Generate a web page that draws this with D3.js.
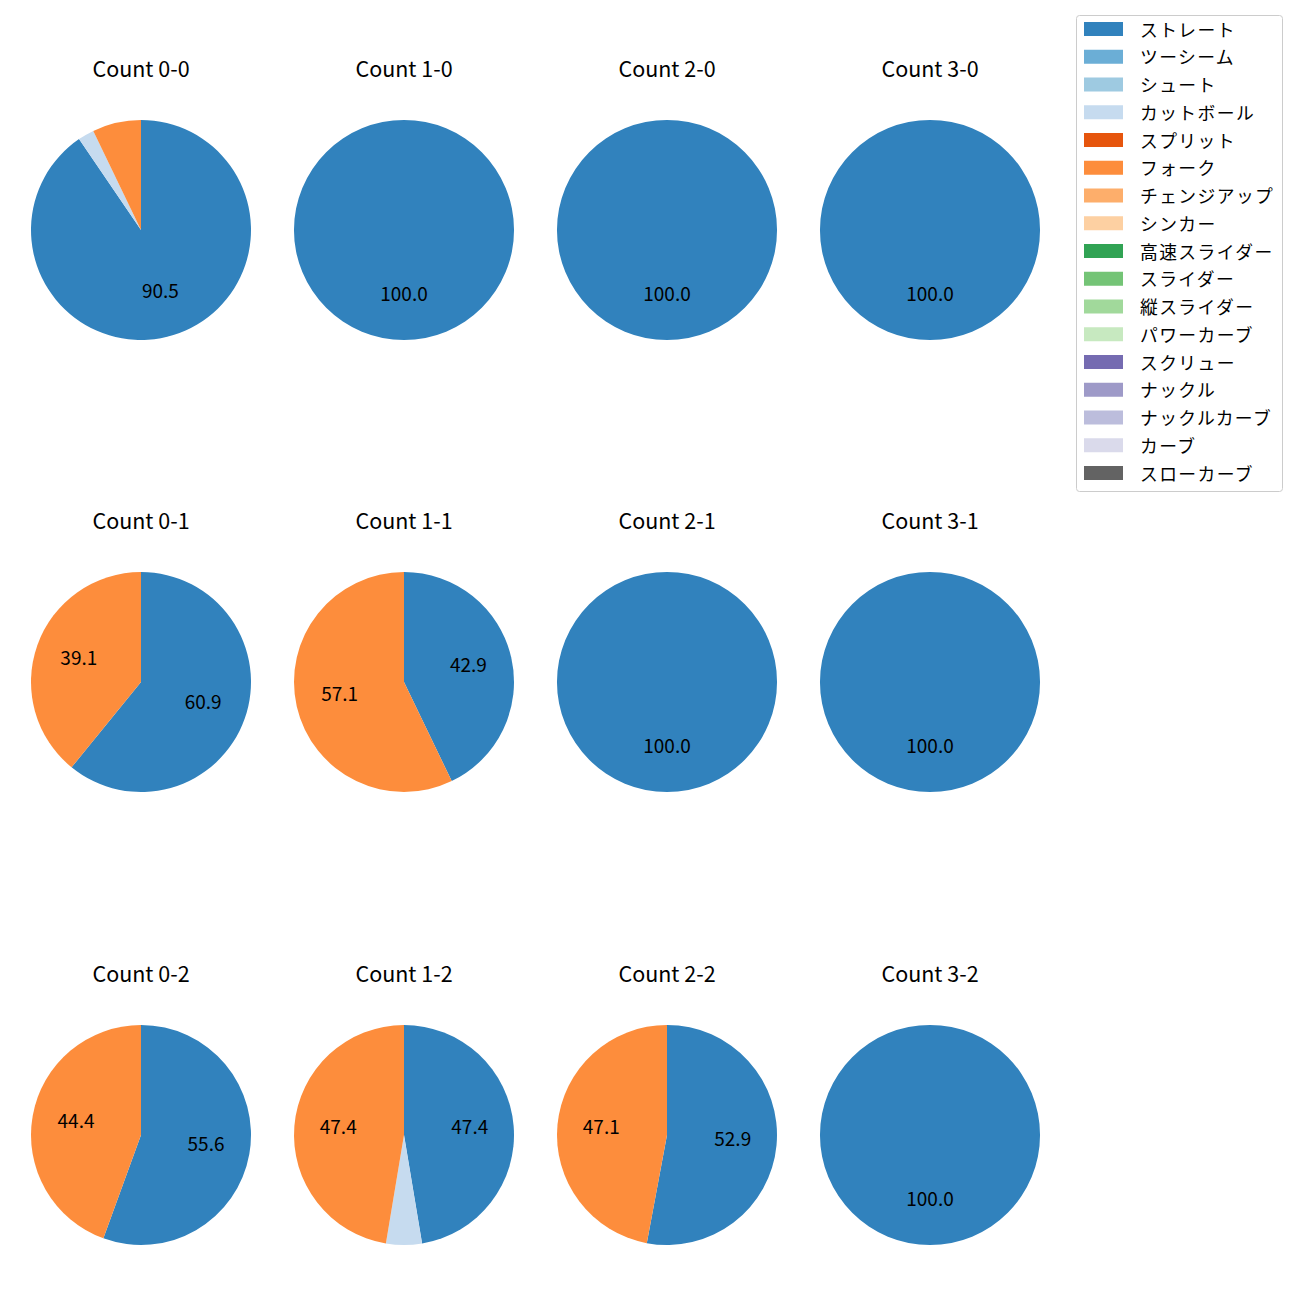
<!DOCTYPE html>
<html><head><meta charset="utf-8">
<script src="https://cdn.jsdelivr.net/npm/d3@7"></script>
<style>body{margin:0;background:#fff}svg{display:block}text{font-family:"Noto Sans CJK JP","Noto Sans",sans-serif}</style>
</head><body>
<script>
const pitchTypes = ["ストレート","ツーシーム","シュート","カットボール","スプリット","フォーク","チェンジアップ","シンカー","高速スライダー","スライダー","縦スライダー","パワーカーブ","スクリュー","ナックル","ナックルカーブ","カーブ","スローカーブ"];
const pitchColors = ["#3182bd","#6baed6","#9ecae1","#c6dbef","#e6550d","#fd8d3c","#fdae6b","#fdd0a2","#31a354","#74c476","#a1d99b","#c7e9c0","#756bb1","#9e9ac8","#bcbddc","#dadaeb","#636363"];
const countTitles = ["Count 0-0","Count 1-0","Count 2-0","Count 3-0","Count 0-1","Count 1-1","Count 2-1","Count 3-1","Count 0-2","Count 1-2","Count 2-2","Count 3-2"];
// pitch counts per panel: ストレート, カットボール, フォーク
const straightVals = [38, 1, 1, 1, 14, 3, 1, 1, 5, 9, 9, 1];
const cutterVals   = [ 1, 0, 0, 0,  0, 0, 0, 0, 0, 1, 0, 0];
const forkVals     = [ 3, 0, 0, 0,  9, 4, 0, 0, 4, 9, 8, 0];

const W = 1300, H = 1300;
const svg = d3.select("body").append("svg").attr("width", W).attr("height", H);
const colX = [141, 404, 667, 930];
const rowY = [230, 682, 1135];
const R = 110;
const color = d3.scaleOrdinal().domain(pitchTypes).range(pitchColors);
const pie = d3.pie().sort(null).value(d => d.v).startAngle(0).endAngle(2 * Math.PI);
const arc = d3.arc().innerRadius(0).outerRadius(R);
const labelArc = d3.arc().innerRadius(R * 0.6).outerRadius(R * 0.6);

countTitles.forEach((t, i) => {
  const cx = colX[i % 4], cy = rowY[Math.floor(i / 4)];
  const g = svg.append("g").attr("transform", `translate(${cx},${cy})`);
  g.append("text").attr("x", 0).attr("y", -153.5).attr("text-anchor", "middle")
    .attr("font-size", 21.5).attr("fill", "#000").text(t);
  const data = [
    {k: "ストレート", v: straightVals[i]},
    {k: "カットボール", v: cutterVals[i]},
    {k: "フォーク", v: forkVals[i]}
  ].filter(d => d.v > 0);
  const total = d3.sum(data, d => d.v);
  const arcs = pie(data);
  g.selectAll("path").data(arcs).join("path").attr("d", arc).attr("fill", d => color(d.data.k));
  g.selectAll("text.lbl").data(arcs.filter(d => d.data.v / total * 100 >= 10)).join("text")
    .attr("class", "lbl")
    .attr("transform", d => { const c = labelArc.centroid(d); return `translate(${c[0]},${c[1] + 4.7})`; })
    .attr("text-anchor", "middle")
    .attr("font-size", 19).attr("fill", "#000")
    .text(d => (d.data.v / total * 100).toFixed(1));
});

// legend
const lg = svg.append("g");
lg.append("rect").attr("x", 1076.5).attr("y", 15.5).attr("width", 206).attr("height", 476)
  .attr("rx", 3).attr("fill", "#fff").attr("stroke", "#cccccc").attr("stroke-width", 1);
pitchTypes.forEach((p, i) => {
  const y = 29 + i * 27.75;
  lg.append("rect").attr("x", 1084).attr("y", y - 7).attr("width", 39).attr("height", 14).attr("fill", color(p));
  lg.append("text").attr("x", 1140).attr("y", y - 0.5).attr("dominant-baseline", "central")
    .attr("font-size", 17.8).attr("letter-spacing", 1.4).attr("fill", "#000").text(p);
});
</script>
</body></html>
